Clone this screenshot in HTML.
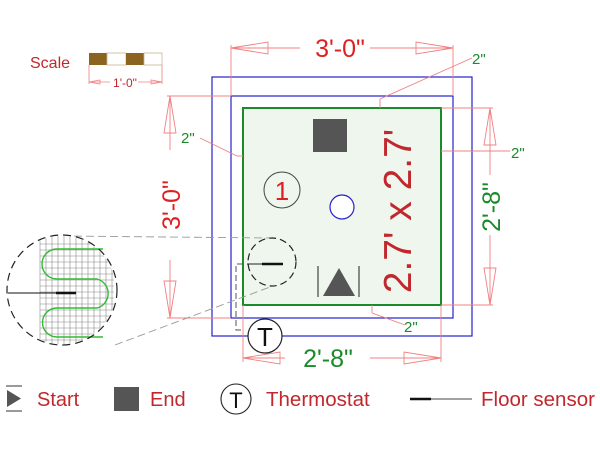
<!DOCTYPE html>
<html><head><style>html,body{margin:0;padding:0;background:#fff}svg{display:block}</style></head><body>
<svg width="600" height="450" viewBox="0 0 600 450" xmlns="http://www.w3.org/2000/svg" font-family="Liberation Sans, Arial, sans-serif">
<defs>
<clipPath id="mc"><circle cx="62" cy="290" r="54"/></clipPath>
</defs>
<!-- scale -->
<text x="30" y="68" font-size="16" fill="#c0282d">Scale</text>
<rect x="89" y="53" width="18" height="12" fill="#8b6520"/>
<rect x="107" y="53" width="19" height="12" fill="#fff" stroke="#c8b890" stroke-width="0.8"/>
<rect x="126" y="53" width="18" height="12" fill="#8b6520"/>
<rect x="144" y="53" width="18" height="12" fill="#fff" stroke="#c8b890" stroke-width="0.8"/>
<g stroke="#f08080" stroke-width="0.8" fill="none">
<line x1="89" y1="65" x2="89" y2="84"/><line x1="162" y1="65" x2="162" y2="84"/>
<line x1="89" y1="82" x2="110" y2="82"/><line x1="138" y1="82" x2="162" y2="82"/>
<polygon points="89,82 100,80 100,84"/><polygon points="162,82 151,80 151,84"/>
</g>
<text x="125" y="87" font-size="12" fill="#c0282d" text-anchor="middle">1'-0"</text>

<!-- rooms -->
<rect x="212" y="77" width="260" height="259" fill="none" stroke="#2222cc" stroke-width="1.2"/>
<rect x="231" y="96" width="222" height="222" fill="none" stroke="#2222cc" stroke-width="1.2"/>
<rect x="243" y="108" width="198" height="197" fill="#eef6ee" stroke="#1a8a2a" stroke-width="2"/>

<!-- dimension lines -->
<g stroke="#f08080" stroke-width="0.9" fill="none">
<line x1="231" y1="45" x2="231" y2="96"/><line x1="453" y1="45" x2="453" y2="96"/>
<line x1="231" y1="48" x2="300" y2="48"/><line x1="370" y1="48" x2="453" y2="48"/>
<polygon points="231,48 268,42 268,54"/><polygon points="453,48 416,42 416,54"/>
<line x1="167" y1="96" x2="231" y2="96"/><line x1="167" y1="318" x2="231" y2="318"/>
<line x1="170" y1="96" x2="170" y2="150"/><line x1="170" y1="260" x2="170" y2="318"/>
<polygon points="170,96 164,133 176,133"/><polygon points="170,318 164,281 176,281"/>
<line x1="441" y1="108" x2="493" y2="108"/><line x1="441" y1="305" x2="493" y2="305"/>
<line x1="490" y1="108" x2="490" y2="175"/><line x1="490" y1="235" x2="490" y2="305"/>
<polygon points="490,108 484,145 496,145"/><polygon points="490,305 484,268 496,268"/>
<line x1="243" y1="305" x2="243" y2="362"/><line x1="441" y1="305" x2="441" y2="362"/>
<line x1="243" y1="358" x2="285" y2="358"/><line x1="370" y1="358" x2="441" y2="358"/>
<polygon points="243,358 280,352 280,364"/><polygon points="441,358 404,352 404,364"/>
<line x1="200" y1="138" x2="237" y2="156"/><line x1="237" y1="156" x2="243" y2="156"/>
<line x1="380" y1="99" x2="380" y2="108"/><line x1="380" y1="99" x2="472" y2="58"/>
<line x1="441" y1="151" x2="510" y2="151"/>
<line x1="372" y1="305" x2="372" y2="313"/><line x1="372" y1="313" x2="405" y2="325"/>
</g>
<text x="340" y="57" font-size="25" fill="#e02020" text-anchor="middle">3'-0"</text>
<text transform="translate(180,205) rotate(-90)" font-size="25" fill="#e02020" text-anchor="middle">3'-0"</text>
<text transform="translate(500,207) rotate(-90)" font-size="25" fill="#1a8a2a" text-anchor="middle">2'-8"</text>
<text x="328" y="367" font-size="25" fill="#1a8a2a" text-anchor="middle">2'-8"</text>
<text x="181" y="143" font-size="15" fill="#1a8a2a">2"</text>
<text x="472" y="64" font-size="15" fill="#1a8a2a">2"</text>
<text x="511" y="158" font-size="15" fill="#1a8a2a">2"</text>
<text x="404" y="332" font-size="15" fill="#1a8a2a">2"</text>

<!-- interior -->
<rect x="313" y="119" width="34" height="33" fill="#555"/>
<circle cx="342" cy="207" r="12" fill="#fff" stroke="#2222cc" stroke-width="1.2"/>
<circle cx="282" cy="190" r="18" fill="none" stroke="#444" stroke-width="1"/>
<text x="282" y="200" font-size="26" fill="#e02020" text-anchor="middle">1</text>
<line x1="318" y1="266" x2="318" y2="297" stroke="#444" stroke-width="1.2"/>
<line x1="359" y1="266" x2="359" y2="297" stroke="#444" stroke-width="1.2"/>
<polygon points="339,268 355,296 323,296" fill="#555"/>
<text transform="translate(411,211) rotate(-90)" font-size="39" fill="#c0282d" text-anchor="middle">2.7' x 2.7'</text>

<!-- sensor detail -->
<line x1="62" y1="236" x2="272" y2="238" stroke="#999" stroke-width="0.9" stroke-dasharray="8,4"/>
<line x1="115" y1="345" x2="270" y2="287" stroke="#999" stroke-width="0.9" stroke-dasharray="8,4"/>
<circle cx="272" cy="262" r="24" fill="#eef6ee" stroke="#222" stroke-width="1.2" stroke-dasharray="7,4"/>
<line x1="247" y1="264" x2="268" y2="264" stroke="#222" stroke-width="1"/>
<line x1="262" y1="264" x2="283" y2="264" stroke="#111" stroke-width="2.5"/>
<path d="M243,264 H236 V330 H243" fill="none" stroke="#555" stroke-width="1" stroke-dasharray="6,3"/>
<circle cx="265" cy="336" r="17" fill="#fff" stroke="#222" stroke-width="1.2"/>
<text x="265" y="346" font-size="26" fill="#111" text-anchor="middle">T</text>

<!-- magnified circle -->
<circle cx="62" cy="290" r="55" fill="#fff"/>
<g clip-path="url(#mc)" stroke="#888" stroke-width="0.6">
<line x1="40" y1="230" x2="40" y2="350"/><line x1="46" y1="230" x2="46" y2="350"/><line x1="52" y1="230" x2="52" y2="350"/><line x1="58" y1="230" x2="58" y2="350"/><line x1="64" y1="230" x2="64" y2="350"/><line x1="70" y1="230" x2="70" y2="350"/><line x1="76" y1="230" x2="76" y2="350"/><line x1="82" y1="230" x2="82" y2="350"/><line x1="88" y1="230" x2="88" y2="350"/><line x1="94" y1="230" x2="94" y2="350"/><line x1="100" y1="230" x2="100" y2="350"/><line x1="106" y1="230" x2="106" y2="350"/><line x1="112" y1="230" x2="112" y2="350"/>
<line x1="40" y1="244" x2="114" y2="244"/><line x1="40" y1="250" x2="114" y2="250"/><line x1="40" y1="256" x2="114" y2="256"/><line x1="40" y1="262" x2="114" y2="262"/><line x1="40" y1="268" x2="114" y2="268"/><line x1="40" y1="274" x2="114" y2="274"/><line x1="40" y1="280" x2="114" y2="280"/><line x1="40" y1="286" x2="114" y2="286"/><line x1="40" y1="292" x2="114" y2="292"/><line x1="40" y1="298" x2="114" y2="298"/><line x1="40" y1="304" x2="114" y2="304"/><line x1="40" y1="310" x2="114" y2="310"/><line x1="40" y1="316" x2="114" y2="316"/><line x1="40" y1="322" x2="114" y2="322"/><line x1="40" y1="328" x2="114" y2="328"/><line x1="40" y1="334" x2="114" y2="334"/><line x1="40" y1="340" x2="114" y2="340"/>
</g>
<path d="M103,249 H57 A15,15 0 0 0 57,279 H97 A15,15 0 0 1 97,308 H57 A14.5,14.5 0 0 0 57,337 H103" fill="none" stroke="#33bb33" stroke-width="1.4"/>
<circle cx="62" cy="290" r="55" fill="none" stroke="#222" stroke-width="1.2" stroke-dasharray="8,5"/>
<line x1="8" y1="293" x2="60" y2="293" stroke="#111" stroke-width="1"/>
<line x1="56" y1="293" x2="76" y2="293" stroke="#111" stroke-width="2.5"/>

<!-- legend -->
<line x1="6" y1="386" x2="22" y2="386" stroke="#333" stroke-width="1"/>
<line x1="6" y1="411" x2="22" y2="411" stroke="#333" stroke-width="1"/>
<polygon points="7,390 21,398.5 7,407" fill="#555"/>
<text x="37" y="406" font-size="20" fill="#c0282d">Start</text>
<rect x="114" y="387" width="25" height="24" fill="#555"/>
<text x="150" y="406" font-size="20" fill="#c0282d">End</text>
<circle cx="236" cy="399" r="15" fill="#fff" stroke="#222" stroke-width="1.1"/>
<text x="236" y="408" font-size="22" fill="#111" text-anchor="middle">T</text>
<text x="266" y="406" font-size="20.5" fill="#c0282d">Thermostat</text>
<line x1="410" y1="399" x2="472" y2="399" stroke="#444" stroke-width="1"/>
<line x1="410" y1="399" x2="431" y2="399" stroke="#111" stroke-width="2.5"/>
<text x="481" y="406" font-size="20.5" fill="#c0282d">Floor sensor</text>
</svg>
</body></html>
